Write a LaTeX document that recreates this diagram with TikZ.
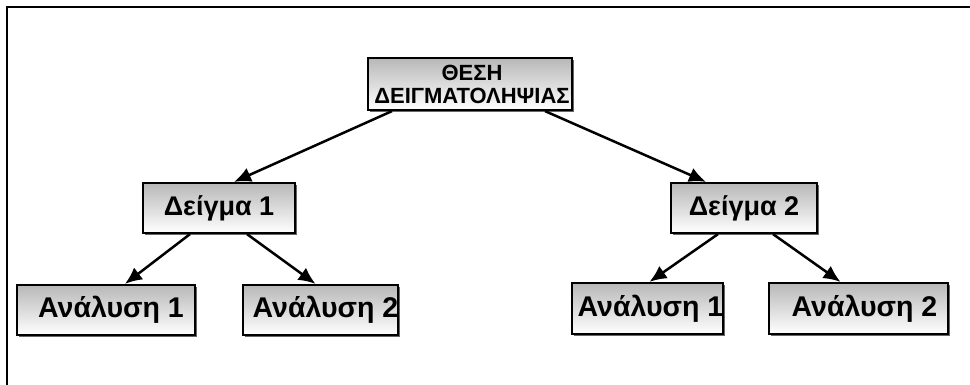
\documentclass[tikz,border=0pt]{standalone}
\usepackage{fontspec}
\setmainfont{Liberation Sans}
\usetikzlibrary{arrows.meta,shadows}
\begin{document}
\begin{tikzpicture}[x=1pt,y=-1pt,
  box/.style={draw=black,line width=2.2pt,top color=black!28,bottom color=white,
    inner sep=0pt,align=center,font=\bfseries\fontsize{27}{29}\selectfont,
    drop shadow={shadow xshift=2pt,shadow yshift=-2pt,fill=black!60,opacity=1}},
  anbox/.style={box,font=\bfseries\fontsize{28.5}{30}\selectfont},
  topbox/.style={box,font=\bfseries\fontsize{22}{23}\selectfont},
  conn/.style={line width=2.5pt,-{Latex[length=17pt,width=15pt]}},
  frame/.style={line width=2pt}]
\useasboundingbox (0,0) rectangle (970,385);
\coordinate (fa) at (7,385);
\coordinate (fb) at (7,7);
\coordinate (fc) at (970,7);
\draw[frame] (fa) -- (fb) -- (fc);
\node[topbox,minimum width=204pt,minimum height=52pt] (top) at (470,84) {\hspace*{4pt}ΘΕΣΗ\\\hspace*{4pt}ΔΕΙΓΜΑΤΟΛΗΨΙΑΣ};
\node[box,minimum width=152pt,minimum height=50pt] (d1) at (219,208) {Δείγμα 1};
\node[box,minimum width=146pt,minimum height=50pt] (d2) at (744,208) {Δείγμα 2};
\node[anbox,minimum width=178pt,minimum height=50pt] (a1) at (106,310) {\hspace*{10pt}Ανάλυση 1};
\node[anbox,minimum width=155pt,minimum height=50pt] (a2) at (320.5,310) {\hspace*{10pt}Ανάλυση 2};
\node[anbox,minimum width=149pt,minimum height=51pt] (b1) at (647.5,308.5) {\hspace*{6pt}Ανάλυση 1};
\node[anbox,minimum width=179pt,minimum height=51pt] (b2) at (858.5,308.5) {\hspace*{12pt}Ανάλυση 2};
\draw[conn] ([xshift=-78pt]top.south) -- ([xshift=15pt]d1.north);
\draw[conn] ([xshift=75pt]top.south) -- ([xshift=-38pt]d2.north);
\draw[conn] ([xshift=-29pt]d1.south) -- ([xshift=19pt]a1.north);
\draw[conn] ([xshift=28pt]d1.south) -- ([xshift=-5pt]a2.north);
\draw[conn] ([xshift=-26pt]d2.south) -- ([xshift=2pt]b1.north);
\draw[conn] ([xshift=29pt]d2.south) -- ([xshift=-18pt]b2.north);
\end{tikzpicture}
\end{document}
